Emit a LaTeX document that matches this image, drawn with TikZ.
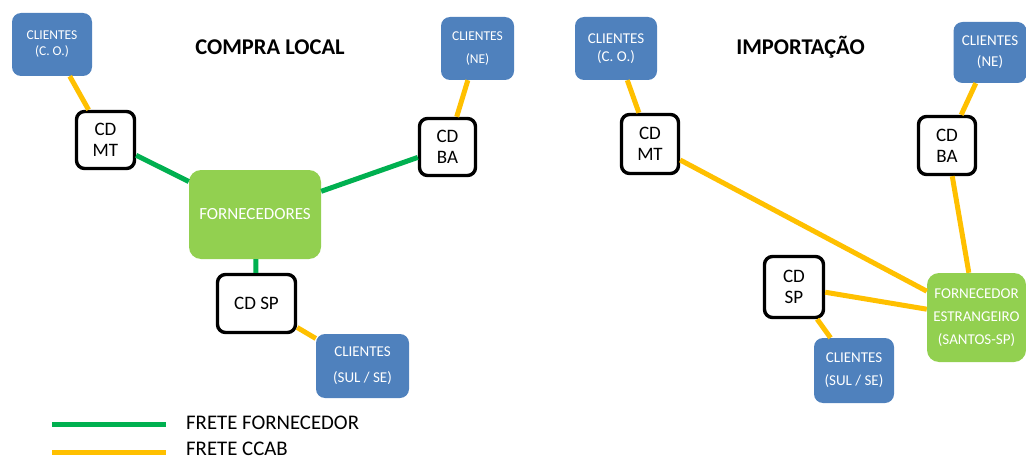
\documentclass[tikz,border=0pt]{standalone}
\usepackage{fontspec}
\setmainfont{Carlito}
\usepackage{xcolor}
\usepackage{tikz}

\definecolor{cliblue}{HTML}{4F81BD}
\definecolor{fornfill}{HTML}{92D050}
\definecolor{fretegreen}{HTML}{00B050}
\definecolor{freteyellow}{HTML}{FFC000}

\begin{document}
\begin{tikzpicture}[
        x=1pt, y=-1pt,
        cli/.style={fill=cliblue, text=white, rounded corners=9pt, inner sep=0pt, align=center},
        cd/.style={draw=black, line width=3.4pt, fill=white, rounded corners=8pt, inner sep=0pt, align=center,
            font=\fontsize{19}{21}\selectfont},
        forn/.style={fill=fornfill, text=white, rounded corners=12pt, inner sep=0pt, align=center},
        fforn/.style={draw=fretegreen, line width=5pt},
        fccab/.style={draw=freteyellow, line width=5pt},
        titulo/.style={font=\fontsize{22.5}{25}\selectfont\bfseries, anchor=base}
    ]
        \useasboundingbox (0,0) rectangle (1026,460);

        % compra local
        \node[titulo] (tlocal) at (270,55) {COMPRA LOCAL};
        \node[cli, minimum width=80, minimum height=63, font=\fontsize{13.5}{16}\selectfont]
            (cliCOl) at (52,44.5) {CLIENTES\\(C. O.)};
        \node[cli, minimum width=73, minimum height=63, font=\fontsize{13.5}{23}\selectfont]
            (cliNEl) at (477.5,48.5) {CLIENTES\\(NE)};
        \node[cd, minimum width=58, minimum height=57] (cdMTl) at (105.5,140) {CD\\MT};
        \node[cd, minimum width=56, minimum height=57] (cdBAl) at (447.5,147) {CD\\BA};
        \node[forn, minimum width=132, minimum height=89, font=\fontsize{17}{20}\selectfont]
            (fornl) at (255,214.5) {FORNECEDORES};
        \node[cd, minimum width=78, minimum height=58] (cdSPl) at (256.5,303.5) {CD SP};
        \node[cli, minimum width=93, minimum height=64, font=\fontsize{15}{26}\selectfont]
            (cliSULl) at (362.5,366) {CLIENTES\\(SUL / SE)};

        % importacao
        \node[titulo] (timport) at (800.5,55) {IMPORTAÇÃO};
        \node[cli, minimum width=82, minimum height=63, font=\fontsize{15}{18}\selectfont]
            (cliCOr) at (616,48.5) {CLIENTES\\(C. O.)};
        \node[cli, minimum width=73, minimum height=61, font=\fontsize{15}{21}\selectfont]
            (cliNEr) at (990,52.5) {CLIENTES\\(NE)};
        \node[cd, minimum width=57, minimum height=59] (cdMTr) at (650,144) {CD\\MT};
        \node[cd, minimum width=57, minimum height=58] (cdBAr) at (947,145.5) {CD\\BA};
        \node[cd, minimum width=59, minimum height=61] (cdSPr) at (794,287) {CD\\SP};
        \node[cli, minimum width=80, minimum height=65, font=\fontsize{15}{23}\selectfont]
            (cliSULr) at (854,370.5) {CLIENTES\\(SUL / SE)};
        \node[forn, minimum width=99, minimum height=89, font=\fontsize{15}{23}\selectfont]
            (fornr) at (976.5,317.5) {FORNECEDOR\\ESTRANGEIRO\\(SANTOS-SP)};

        % fretes
        \draw[fccab] (cliCOl) -- (cdMTl);
        \draw[fccab] (cliNEl) -- (cdBAl);
        \draw[fforn] (cdMTl) -- (fornl);
        \draw[fforn] (cdBAl) -- (fornl);
        \draw[fforn] (fornl) -- (cdSPl);
        \draw[fccab] (cdSPl) -- (cliSULl);

        \draw[fccab] (cliCOr) -- (cdMTr);
        \draw[fccab] (cliNEr) -- (cdBAr);
        \draw[fccab] (cdMTr) -- (fornr);
        \draw[fccab] (cdBAr) -- (fornr);
        \draw[fccab] (cdSPr) -- (fornr);
        \draw[fccab] (cdSPr) -- (cliSULr);

        % legenda
        \coordinate (lg1a) at (52,424);
        \coordinate (lg1b) at (166,424);
        \coordinate (lg2a) at (52,452);
        \coordinate (lg2b) at (166,452);
        \draw[fforn] (lg1a) -- (lg1b);
        \draw[fccab] (lg2a) -- (lg2b);
        \node[anchor=west, inner sep=0pt, font=\fontsize{20.8}{22}\selectfont] (lgforn) at (186,423) {FRETE FORNECEDOR};
        \node[anchor=west, inner sep=0pt, font=\fontsize{20.8}{22}\selectfont] (lgccab) at (186,449) {FRETE CCAB};
    \end{tikzpicture}
\end{document}
